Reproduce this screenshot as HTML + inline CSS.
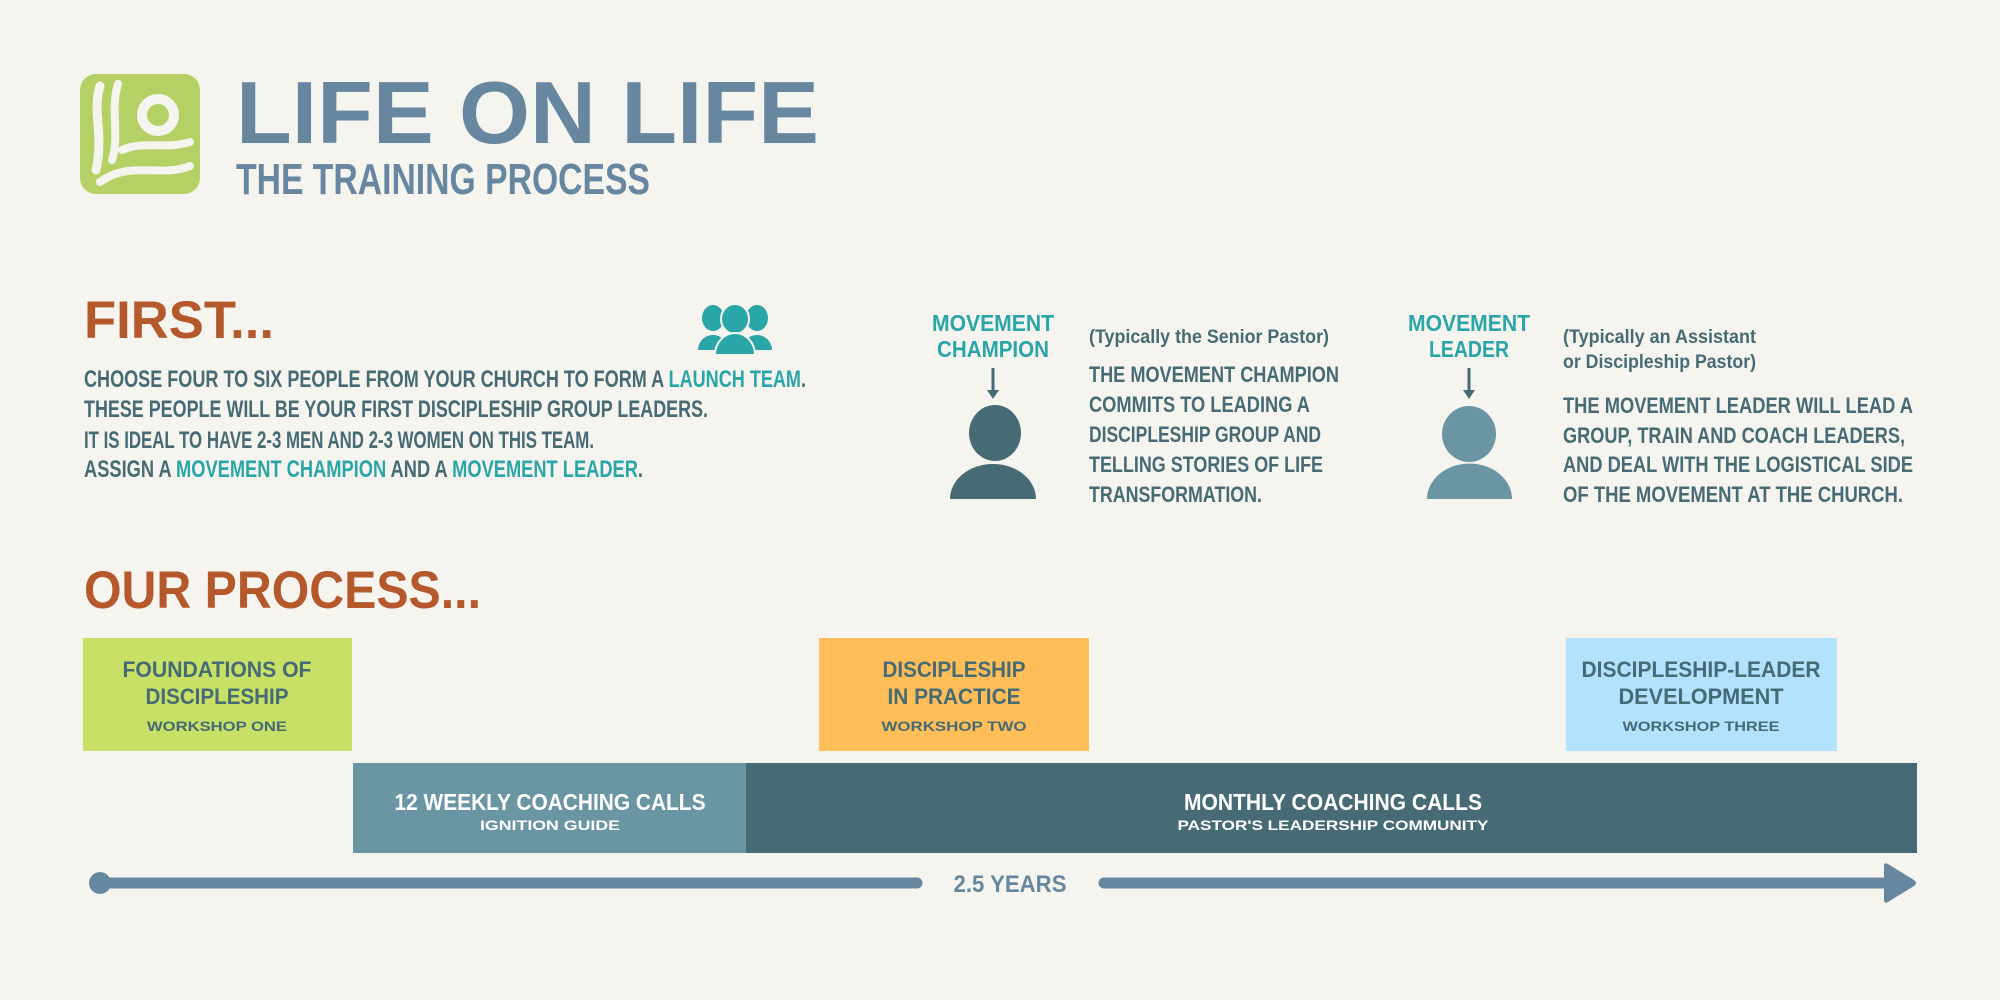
<!DOCTYPE html>
<html><head><meta charset="utf-8"><style>
html,body{margin:0;padding:0;background:#f5f4ef;}
svg{display:block}
text{font-family:"Liberation Sans",sans-serif;font-weight:bold;}
</style></head><body>
<svg width="2000" height="1000" viewBox="0 0 2000 1000" xmlns="http://www.w3.org/2000/svg">
<rect width="2000" height="1000" fill="#f5f4ef"/>
<!-- logo -->
<rect x="80" y="74" width="120" height="120" rx="16" fill="#b5d165"/>
<g fill="none" stroke="#f5f4ef" stroke-linecap="round">
<path d="M100,86 C92,110 104,135 96,170" stroke-width="9"/>
<path d="M118,84 C110,110 120,135 112,160" stroke-width="8"/>
<circle cx="158" cy="115" r="16" stroke-width="10"/>
<path d="M122,150 C145,140 165,150 190,142" stroke-width="8"/>
<path d="M100,182 C130,160 160,178 190,166" stroke-width="8"/>
</g>
<text x="236" y="143" font-size="88" fill="#6787a0" textLength="583" lengthAdjust="spacingAndGlyphs">LIFE ON LIFE</text>
<text x="236" y="194" font-size="44" fill="#6787a0" textLength="414" lengthAdjust="spacingAndGlyphs">THE TRAINING PROCESS</text>

<text x="84" y="338" font-size="53" fill="#b5592c" textLength="190" lengthAdjust="spacingAndGlyphs">FIRST...</text>
<g font-size="24" fill="#466b75">
<text x="84" y="387" textLength="722" lengthAdjust="spacingAndGlyphs">CHOOSE FOUR TO SIX PEOPLE FROM YOUR CHURCH TO FORM A <tspan fill="#2aa5a8">LAUNCH TEAM</tspan>.</text>
<text x="84" y="417" textLength="624" lengthAdjust="spacingAndGlyphs">THESE PEOPLE WILL BE YOUR FIRST DISCIPLESHIP GROUP LEADERS.</text>
<text x="84" y="448" textLength="510" lengthAdjust="spacingAndGlyphs">IT IS IDEAL TO HAVE 2-3 MEN AND 2-3 WOMEN ON THIS TEAM.</text>
<text x="84" y="477" textLength="559" lengthAdjust="spacingAndGlyphs">ASSIGN A <tspan fill="#2aa5a8">MOVEMENT CHAMPION</tspan> AND A <tspan fill="#2aa5a8">MOVEMENT LEADER</tspan>.</text>
</g>
<!-- group icon -->
<g fill="#2aa5a8">
<ellipse cx="713" cy="318" rx="11" ry="13"/>
<ellipse cx="757" cy="318" rx="11" ry="13"/>
<path d="M698,350 A15,15 0 0 1 728,350 Z"/>
<path d="M742,350 A15,15 0 0 1 772,350 Z"/>
<ellipse cx="735" cy="319" rx="14" ry="15" stroke="#f5f4ef" stroke-width="2"/>
<path d="M715,355 A20,22 0 0 1 755,355 Z" stroke="#f5f4ef" stroke-width="2"/>
</g>

<!-- champion -->
<g font-size="23" fill="#2aa5a8" text-anchor="middle">
<text x="993" y="331" textLength="122" lengthAdjust="spacingAndGlyphs">MOVEMENT</text>
<text x="993" y="357" textLength="112" lengthAdjust="spacingAndGlyphs">CHAMPION</text>
<text x="1469" y="331" textLength="122" lengthAdjust="spacingAndGlyphs">MOVEMENT</text>
<text x="1469" y="357" textLength="80" lengthAdjust="spacingAndGlyphs">LEADER</text>
</g>
<g stroke="#466b75" stroke-width="3" fill="#466b75">
<line x1="993" y1="368" x2="993" y2="392"/><path d="M987,390 L999,390 L993,399 Z" stroke="none"/>
<line x1="1469" y1="368" x2="1469" y2="392"/><path d="M1463,390 L1475,390 L1469,399 Z" stroke="none"/>
</g>
<ellipse cx="995" cy="433" rx="26" ry="28" fill="#466b75"/>
<path d="M950,499 A43,35 0 0 1 1036,499 Z" fill="#466b75"/>
<ellipse cx="1469" cy="434" rx="27" ry="28" fill="#6a95a3"/>
<path d="M1427,499 A42,35 0 0 1 1512,499 Z" fill="#6a95a3"/>

<g fill="#466b75">
<text x="1089" y="343" font-size="19" textLength="240" lengthAdjust="spacingAndGlyphs">(Typically the Senior Pastor)</text>
<text x="1563" y="343" font-size="19" textLength="193" lengthAdjust="spacingAndGlyphs">(Typically an Assistant</text>
<text x="1563" y="368" font-size="19" textLength="193" lengthAdjust="spacingAndGlyphs">or Discipleship Pastor)</text>
<g font-size="22">
<text x="1089" y="382" textLength="250" lengthAdjust="spacingAndGlyphs">THE MOVEMENT CHAMPION</text>
<text x="1089" y="412" textLength="221" lengthAdjust="spacingAndGlyphs">COMMITS TO LEADING A</text>
<text x="1089" y="442" textLength="232" lengthAdjust="spacingAndGlyphs">DISCIPLESHIP GROUP AND</text>
<text x="1089" y="472" textLength="234" lengthAdjust="spacingAndGlyphs">TELLING STORIES OF LIFE</text>
<text x="1089" y="502" textLength="173" lengthAdjust="spacingAndGlyphs">TRANSFORMATION.</text>
<text x="1563" y="413" textLength="350" lengthAdjust="spacingAndGlyphs">THE MOVEMENT LEADER WILL LEAD A</text>
<text x="1563" y="443" textLength="342" lengthAdjust="spacingAndGlyphs">GROUP, TRAIN AND COACH LEADERS,</text>
<text x="1563" y="472" textLength="350" lengthAdjust="spacingAndGlyphs">AND DEAL WITH THE LOGISTICAL SIDE</text>
<text x="1563" y="502" textLength="340" lengthAdjust="spacingAndGlyphs">OF THE MOVEMENT AT THE CHURCH.</text>
</g></g>

<text x="84" y="608" font-size="53" fill="#b5592c" textLength="397" lengthAdjust="spacingAndGlyphs">OUR PROCESS...</text>

<!-- workshops -->
<rect x="83" y="638" width="269" height="113" fill="#c8e066"/>
<rect x="819" y="638" width="270" height="113" fill="#ffbe57"/>
<rect x="1566" y="638" width="271" height="113" fill="#b3e2ff"/>
<g fill="#466b75" text-anchor="middle">
<g font-size="22">
<text x="217" y="677" textLength="189" lengthAdjust="spacingAndGlyphs">FOUNDATIONS OF</text>
<text x="217" y="704" textLength="143" lengthAdjust="spacingAndGlyphs">DISCIPLESHIP</text>
<text x="954" y="677" textLength="143" lengthAdjust="spacingAndGlyphs">DISCIPLESHIP</text>
<text x="954" y="704" textLength="133" lengthAdjust="spacingAndGlyphs">IN PRACTICE</text>
<text x="1701" y="677" textLength="239" lengthAdjust="spacingAndGlyphs">DISCIPLESHIP-LEADER</text>
<text x="1701" y="704" textLength="165" lengthAdjust="spacingAndGlyphs">DEVELOPMENT</text>
</g>
<g font-size="14">
<text x="217" y="731" textLength="140" lengthAdjust="spacingAndGlyphs">WORKSHOP ONE</text>
<text x="954" y="731" textLength="145" lengthAdjust="spacingAndGlyphs">WORKSHOP TWO</text>
<text x="1701" y="731" textLength="157" lengthAdjust="spacingAndGlyphs">WORKSHOP THREE</text>
</g></g>

<!-- bars -->
<rect x="353" y="763" width="393" height="90" fill="#6a95a3"/>
<rect x="746" y="763" width="1171" height="90" fill="#466b75"/>
<g fill="#ffffff" text-anchor="middle">
<text x="550" y="810" font-size="23" textLength="311" lengthAdjust="spacingAndGlyphs">12 WEEKLY COACHING CALLS</text>
<text x="550" y="830" font-size="14" textLength="140" lengthAdjust="spacingAndGlyphs">IGNITION GUIDE</text>
<text x="1333" y="810" font-size="23" textLength="298" lengthAdjust="spacingAndGlyphs">MONTHLY COACHING CALLS</text>
<text x="1333" y="830" font-size="14" textLength="311" lengthAdjust="spacingAndGlyphs">PASTOR'S LEADERSHIP COMMUNITY</text>
</g>

<!-- timeline arrow -->
<g stroke="#6787a0" stroke-width="11" stroke-linecap="round" fill="none">
<line x1="100" y1="883" x2="917" y2="883"/>
<line x1="1104" y1="883" x2="1890" y2="883"/>
</g>
<path d="M1884,866 Q1884,862 1888,864 L1914,880 Q1918,883 1914,886 L1888,902 Q1884,904 1884,900 Z" fill="#6787a0"/>
<circle cx="100" cy="883" r="11" fill="#6787a0"/>
<text x="1010" y="892" font-size="24" fill="#6787a0" text-anchor="middle" textLength="113" lengthAdjust="spacingAndGlyphs">2.5 YEARS</text>
</svg>
</body></html>
